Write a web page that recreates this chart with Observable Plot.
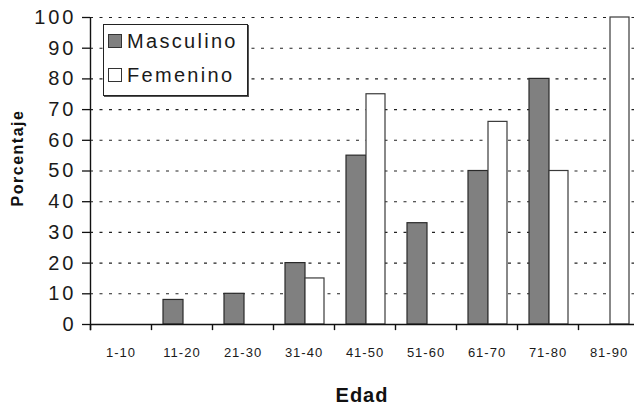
<!DOCTYPE html>
<html>
<head>
<meta charset="utf-8">
<script src="https://cdn.jsdelivr.net/npm/d3@7"></script>
<script src="https://cdn.jsdelivr.net/npm/@observablehq/plot@0.6"></script>
<style>
  html, body { margin: 0; padding: 0; background: #fff; }
  #wrap { position: relative; width: 634px; height: 410px; overflow: hidden; font-family: "Liberation Sans", Arial, Helvetica, sans-serif; color: #111; }
  #wrap svg { position: absolute; left: 0; top: 0; }
  g[aria-label="y-axis tick label"] text { letter-spacing: 3px; }
  g[aria-label="x-axis tick label"] text { letter-spacing: 1px; }
  .ylab { position: absolute; left: 18px; top: 158px; transform: translate(-50%, -50%) rotate(-90deg); font-weight: bold; font-size: 16px; letter-spacing: 1.5px; white-space: nowrap; line-height: 1; }
  .xlab { position: absolute; left: 362px; top: 385px; transform: translateX(-50%); font-weight: bold; font-size: 20px; letter-spacing: 1px; line-height: 20px; white-space: nowrap; }
  .legend { position: absolute; left: 103px; top: 24px; width: 143px; height: 70px; border: 1.5px solid #222; box-shadow: 1px 1px 0 #555; background: #fff; }
  .legend .item { position: absolute; left: 4px; height: 22px; display: flex; align-items: center; font-size: 20px; letter-spacing: 2.3px; line-height: 22px; white-space: nowrap; color: #1a1a1a; }
  .legend .sw { width: 14px; height: 14px; border: 1.5px solid #333; margin-right: 5px; box-sizing: border-box; }
</style>
</head>
<body>
<div id="wrap"></div>
<script>
// ---- data ----
const categories = ["1-10", "11-20", "21-30", "31-40", "41-50", "51-60", "61-70", "71-80", "81-90"];
const masculino = [0, 8, 10, 20, 55, 33, 50, 80, 0];
const femenino  = [0, 0, 0, 15, 75, 0, 66, 50, 100];
const series = ["Masculino", "Femenino"];
const seriesColors = ["#808080", "#ffffff"];
const yTicks = [0, 10, 20, 30, 40, 50, 60, 70, 80, 90, 100];
const yLabel = "Porcentaje";
const xLabel = "Edad";

const rows = [];
categories.forEach((c, i) => {
  rows.push({edad: c, sexo: series[0], valor: masculino[i]});
  rows.push({edad: c, sexo: series[1], valor: femenino[i]});
});
const maleRows = rows.filter(d => d.sexo === series[0] && d.valor > 0);
const femaleRows = rows.filter(d => d.sexo === series[1] && d.valor > 0);

const W = 634, H = 410, ML = 90, MT = 17, MB = 86;
const bandW = 61;
const xRange = [ML, ML + bandW * categories.length];

const chart = Plot.plot({
  width: W,
  height: H,
  marginLeft: ML,
  marginRight: 0,
  marginTop: MT,
  marginBottom: MB,
  style: {fontFamily: '"Liberation Sans", Arial, Helvetica, sans-serif', background: "transparent", overflow: "visible"},
  x: {domain: categories, range: xRange, padding: 0, axis: null},
  y: {domain: [0, 100], axis: null},
  marks: [
    Plot.gridY(yTicks.filter(t => t > 0), {stroke: "#222", strokeOpacity: 1, strokeWidth: 1.1, strokeDasharray: "3,6.5"}),
    Plot.barY(maleRows, {x: "edad", y: "valor", fill: seriesColors[0], stroke: "#2a2a2a", strokeWidth: 1.2, insetLeft: 12, insetRight: 29}),
    Plot.barY(femaleRows, {x: "edad", y: "valor", fill: seriesColors[1], stroke: "#3a3a3a", strokeWidth: 1.2, insetLeft: 32, insetRight: 10}),
    Plot.ruleY([0], {stroke: "#111", strokeWidth: 1.4}),
    // category boundary ticks on the x axis
    Plot.ruleX(categories, {x: d => d, dx: -bandW / 2, y1: -2, y2: 0, stroke: "#111", strokeWidth: 1.4}),
    // y axis line
    Plot.ruleX([categories[0]], {dx: -bandW / 2, y1: -2, y2: 100, stroke: "#111", strokeWidth: 1.4}),
    Plot.axisY(yTicks, {anchor: "left", tickSize: 8, tickPadding: 6, fontSize: 20, stroke: "#111", fill: "#1a1a1a", label: null, strokeWidth: 1.3}),
    Plot.axisX(categories, {anchor: "bottom", tickSize: 0, tickPadding: 23, fontSize: 13, fill: "#1a1a1a", label: null})
  ]
});

const wrap = document.getElementById("wrap");
wrap.appendChild(chart);

const yl = document.createElement("div");
yl.className = "ylab"; yl.textContent = yLabel; wrap.appendChild(yl);
const xl = document.createElement("div");
xl.className = "xlab"; xl.textContent = xLabel; wrap.appendChild(xl);

const lg = document.createElement("div");
lg.className = "legend";
series.forEach((s, i) => {
  const it = document.createElement("div");
  it.className = "item";
  it.style.top = (i === 0 ? 5 : 39) + "px";
  const sw = document.createElement("span");
  sw.className = "sw"; sw.style.background = seriesColors[i];
  const tx = document.createElement("span");
  tx.textContent = s;
  it.appendChild(sw); it.appendChild(tx);
  lg.appendChild(it);
});
wrap.appendChild(lg);
</script>
</body>
</html>
